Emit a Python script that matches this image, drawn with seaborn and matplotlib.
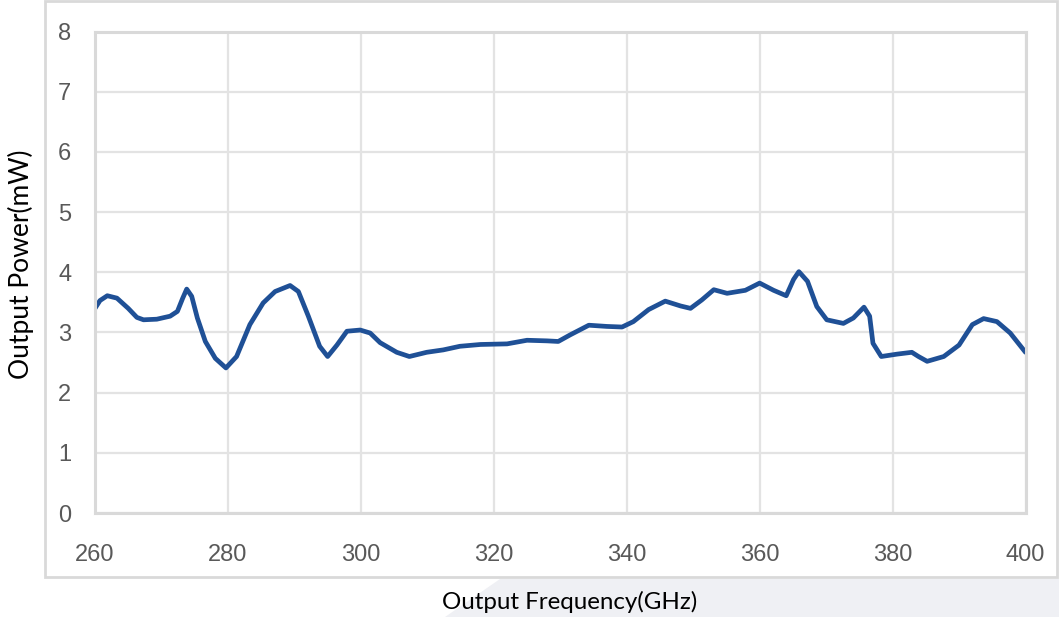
import matplotlib
matplotlib.use("Agg")
import matplotlib.pyplot as plt
from matplotlib.patches import Rectangle, Polygon
import seaborn as sns

# values
freq = [260.0, 260.75, 261.85, 263.3, 265.0, 266.3, 267.3, 269.3, 271.3, 272.4,
        273.2, 273.8, 274.55, 275.4, 276.6, 278.1, 279.7, 281.3, 283.3, 285.3,
        287.1, 289.35, 290.6, 292.1, 293.8, 295.0, 296.4, 297.9, 299.9, 301.4,
        302.9, 305.4, 307.3, 309.9, 312.4, 314.9, 318.0, 322.0, 325.0, 328.0,
        329.7, 331.5, 334.3, 337.0, 339.3, 341.0, 343.3, 345.8, 348.1, 349.6,
        351.3, 353.1, 355.1, 357.85, 360.0, 362.1, 364.0, 365.1, 365.9, 367.2,
        368.6, 370.1, 372.6, 374.1, 375.7, 376.55, 377.05, 378.3, 380.7, 382.9,
        383.9, 385.2, 387.7, 390.0, 392.0, 393.7, 395.7, 397.7, 400.0]
power = [3.40, 3.53, 3.61, 3.57, 3.40, 3.25, 3.21, 3.22, 3.27, 3.35,
         3.57, 3.72, 3.60, 3.24, 2.85, 2.57, 2.41, 2.60, 3.13, 3.49,
         3.68, 3.78, 3.68, 3.27, 2.77, 2.60, 2.79, 3.02, 3.04, 2.99,
         2.83, 2.67, 2.60, 2.67, 2.71, 2.77, 2.80, 2.81, 2.87, 2.86,
         2.85, 2.96, 3.12, 3.10, 3.09, 3.18, 3.38, 3.52, 3.44, 3.40,
         3.54, 3.71, 3.65, 3.70, 3.82, 3.70, 3.61, 3.88, 4.01, 3.85,
         3.43, 3.21, 3.15, 3.24, 3.42, 3.27, 2.82, 2.60, 2.64, 2.67,
         2.60, 2.52, 2.60, 2.79, 3.13, 3.23, 3.18, 2.99, 2.67]
xticks = [260, 280, 300, 320, 340, 360, 380, 400]
yticks = [0, 1, 2, 3, 4, 5, 6, 7, 8]

sns.set_theme(style="whitegrid")
plt.rcParams['font.family'] = ['Liberation Sans', 'DejaVu Sans']

fig = plt.figure(figsize=(10.59, 6.17), dpi=100)
W, H = 1059, 617

# outer chart frame and the grey strip under it
fig.patches.append(Rectangle((45 / W, (H - 577) / H), (1057 - 45) / W, 576 / H,
                             transform=fig.transFigure, fill=False,
                             edgecolor='#d9d9d9', linewidth=2, zorder=0))
fig.patches.append(Polygon([(445 / W, 0), (500 / W, (H - 579) / H),
                            (1, (H - 579) / H), (1, 0)], closed=True,
                           transform=fig.transFigure, facecolor='#eff0f4',
                           edgecolor='none', zorder=0))

ax = fig.add_axes([95 / W, (H - 513) / H, (1025.5 - 95) / W, (513 - 31.5) / H])
ax.set_facecolor('white')

sns.lineplot(x=freq, y=power, ax=ax, color='#1f5096', linewidth=3.4,
             solid_joinstyle='round', solid_capstyle='round')

ax.set_xlim(260, 400)
ax.set_ylim(0, 8)
ax.set_xticks(xticks)
ax.set_yticks(yticks)
ax.grid(True, color='#e3e3e3', linewidth=1.6)
ax.tick_params(axis='both', length=0, labelsize=17, labelcolor='#595959')
ax.tick_params(axis='x', pad=22)
ax.tick_params(axis='y', pad=17)
for s in ax.spines.values():
    s.set_visible(True)
    s.set_color('#d9d9d9')
    s.set_linewidth(2.2)
ax.set_xlabel('')
ax.set_ylabel('')

fig.text(570 / W, (H - 602) / H, 'Output Frequency(GHz)', ha='center', va='center',
         fontsize=17.4, family=['Lato', 'DejaVu Sans'], color='black')
fig.text(21 / W, (H - 264) / H, 'Output Power(mW)', ha='center', va='center',
         rotation=90, fontsize=19, family=['Lato', 'DejaVu Sans'], color='black')

fig.savefig('out.png', dpi=100)
